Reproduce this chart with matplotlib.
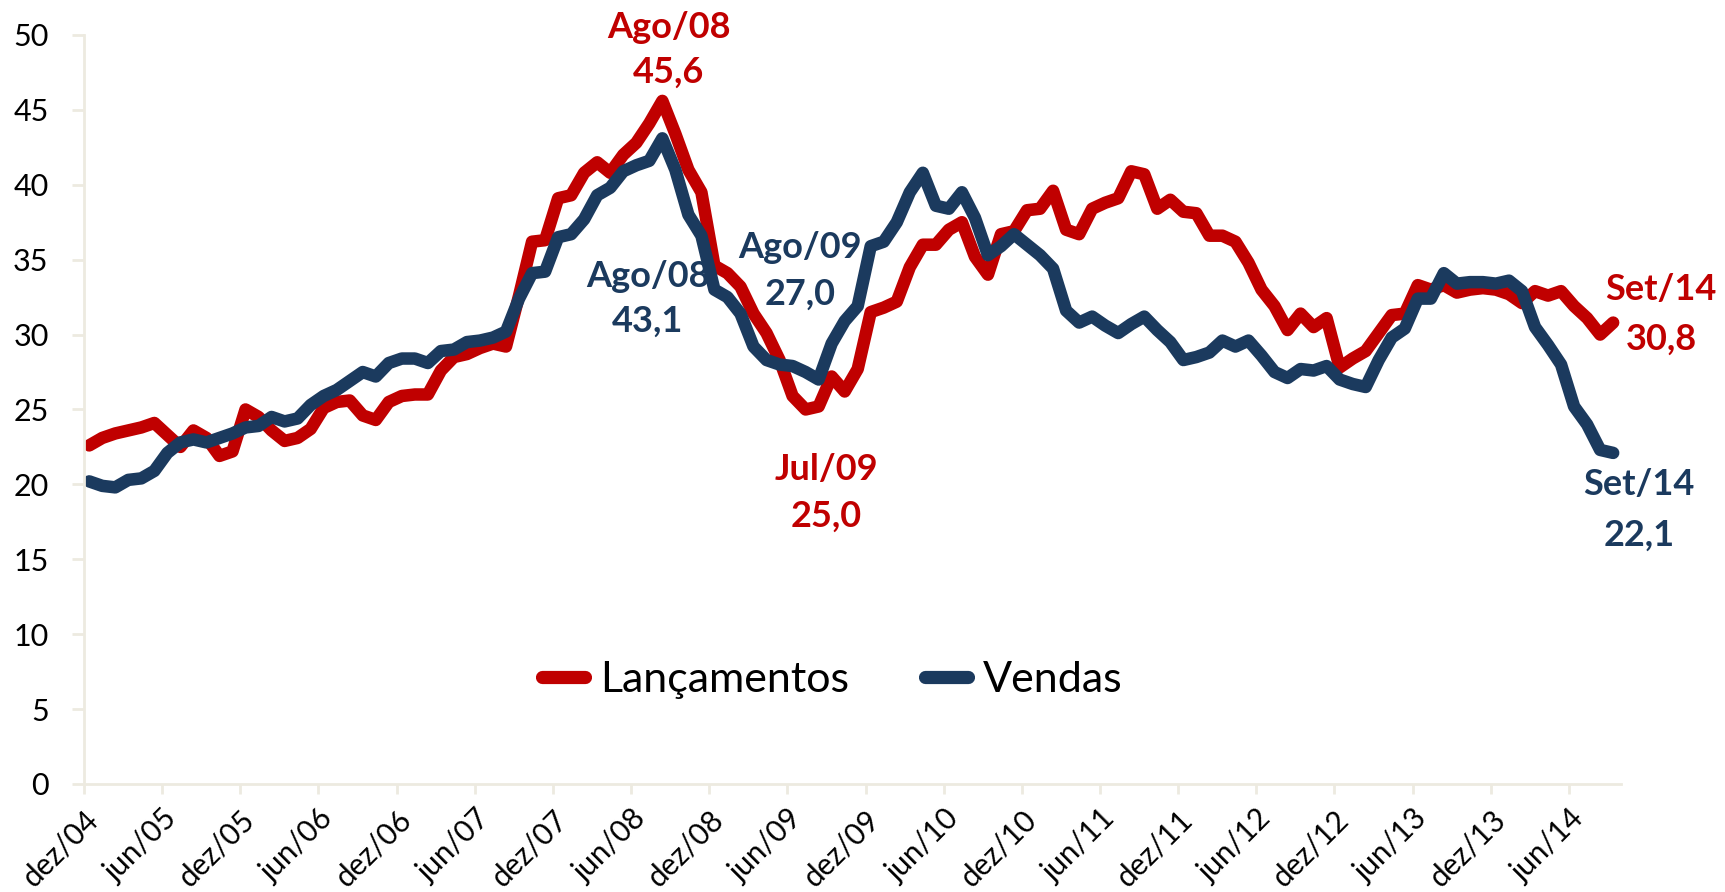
import matplotlib
matplotlib.use("Agg")
import matplotlib.pyplot as plt
import numpy as np
from matplotlib.transforms import ScaledTranslation

plt.rcParams['font.family'] = ['Lato', 'DejaVu Sans']

# Monthly values, dez/04 .. set/14
lancamentos = [
    22.6, 23.1, 23.4, 23.6, 23.8, 24.1, 23.3, 22.5, 23.6, 23.1, 21.9, 22.2,
    25.0, 24.5, 23.6, 22.9, 23.1, 23.7, 25.1, 25.5, 25.6, 24.6, 24.3, 25.5,
    25.9, 26.0, 26.0, 27.6, 28.5, 28.7, 29.1, 29.4, 29.2, 32.6, 36.2, 36.3,
    39.1, 39.3, 40.8, 41.5, 40.8, 42.0, 42.8, 44.1, 45.6, 43.4, 41.0, 39.5,
    34.6, 34.1, 33.2, 31.4, 30.1, 28.3, 25.9, 25.0, 25.2, 27.2, 26.2, 27.7,
    31.5, 31.8, 32.2, 34.5, 36.0, 36.0, 37.0, 37.5, 35.2, 34.0, 36.7, 36.9,
    38.3, 38.4, 39.6, 37.0, 36.7, 38.4, 38.8, 39.1, 40.9, 40.7, 38.4, 39.0,
    38.2, 38.1, 36.6, 36.6, 36.2, 34.8, 33.0, 31.9, 30.3, 31.4, 30.5, 31.1,
    27.8, 28.4, 28.9, 30.1, 31.3, 31.4, 33.3, 33.0, 33.3, 32.8, 33.0, 33.1,
    33.0, 32.7, 32.1, 32.9, 32.6, 32.9, 31.9, 31.1, 30.0, 30.8,
]
vendas = [
    20.2, 19.9, 19.8, 20.3, 20.4, 20.9, 22.1, 22.8, 23.0, 22.8, 23.1, 23.4,
    23.8, 23.9, 24.5, 24.2, 24.4, 25.3, 25.9, 26.3, 26.9, 27.5, 27.2, 28.1,
    28.4, 28.4, 28.1, 28.9, 29.0, 29.5, 29.6, 29.8, 30.2, 32.4, 34.1, 34.2,
    36.5, 36.7, 37.7, 39.3, 39.8, 40.9, 41.3, 41.6, 43.1, 41.0, 38.0, 36.6,
    33.0, 32.5, 31.4, 29.2, 28.3, 28.0, 27.9, 27.5, 27.0, 29.4, 30.9, 31.9,
    35.9, 36.2, 37.5, 39.5, 40.8, 38.6, 38.4, 39.5, 37.8, 35.3, 35.9, 36.7,
    36.0, 35.3, 34.4, 31.6, 30.8, 31.2, 30.6, 30.1, 30.7, 31.2, 30.3, 29.5,
    28.3, 28.5, 28.8, 29.6, 29.2, 29.6, 28.6, 27.5, 27.1, 27.7, 27.6, 27.9,
    27.0, 26.7, 26.5, 28.3, 29.8, 30.4, 32.4, 32.4, 34.1, 33.4, 33.5, 33.5,
    33.4, 33.6, 32.9, 30.5, 29.3, 28.0, 25.2, 24.0, 22.3, 22.1,
]
tick_labels = [
    "dez/04", "jun/05", "dez/05", "jun/06", "dez/06", "jun/07", "dez/07",
    "jun/08", "dez/08", "jun/09", "dez/09", "jun/10", "dez/10", "jun/11",
    "dez/11", "jun/12", "dez/12", "jun/13", "dez/13", "jun/14",
]
series_names = ["Lançamentos", "Vendas"]

RED = "#C00000"
NAVY = "#1B3A5E"
AXC = "#EDEAE0"

n = len(lancamentos)
x = np.arange(n) + 0.4
tick_pos = np.arange(len(tick_labels)) * 6

fig = plt.figure(figsize=(17.25, 8.92), dpi=100)
ax = fig.add_axes([0.0487, 0.1211, 0.8910, 0.8397])

l1, = ax.plot(x, lancamentos, color=RED, lw=9, solid_capstyle='round',
              solid_joinstyle='round', label=series_names[0])
l2, = ax.plot(x, vendas, color=NAVY, lw=9, solid_capstyle='round',
              solid_joinstyle='round', label=series_names[1])

ax.set_xlim(0, 118)
ax.set_ylim(0, 50)
ax.set_yticks(np.arange(0, 51, 5))
ax.set_xticks(tick_pos)
ax.set_xticklabels(tick_labels, rotation=45, ha='right', va='top',
                   rotation_mode='anchor', fontsize=21.5)
offset = ScaledTranslation(-0.14, 0, fig.dpi_scale_trans)
for lab in ax.get_xticklabels():
    lab.set_transform(lab.get_transform() + offset)

for s in ['top', 'right']:
    ax.spines[s].set_visible(False)
for s in ['left', 'bottom']:
    ax.spines[s].set_color(AXC)
    ax.spines[s].set_linewidth(2)
ax.tick_params(axis='y', length=8.5, width=2, color=AXC, pad=17, labelsize=22)
ax.tick_params(axis='x', length=7, width=2, color=AXC, pad=8)

leg = ax.legend(loc='center', bbox_to_anchor=(0.487, 0.139), frameon=False,
                ncol=2, fontsize=31, handlelength=1.0, handletextpad=0.34,
                columnspacing=1.77)
for ln in leg.get_lines():
    ln.set_linewidth(9.5)
    ln.set_solid_capstyle('round')

def label(xc, y1, y2, t1, t2, color):
    kw = dict(ha='center', va='baseline', fontsize=26, fontweight='bold',
              color=color, clip_on=False)
    ax.text(xc, y1, t1, **kw)
    ax.text(xc, y2, t2, **kw)

label(44.9, 49.8, 46.8, "Ago/08", "45,6", RED)
label(43.3, 33.2, 30.2, "Ago/08", "43,1", NAVY)
label(55.0, 35.1, 32.0, "Ago/09", "27,0", NAVY)
label(57.0, 20.3, 17.2, "Jul/09", "25,0", RED)
label(121.1, 32.3, 29.0, "Set/14", "30,8", RED)
label(119.4, 19.3, 15.9, "Set/14", "22,1", NAVY)

fig.savefig("out.png", dpi=100)
